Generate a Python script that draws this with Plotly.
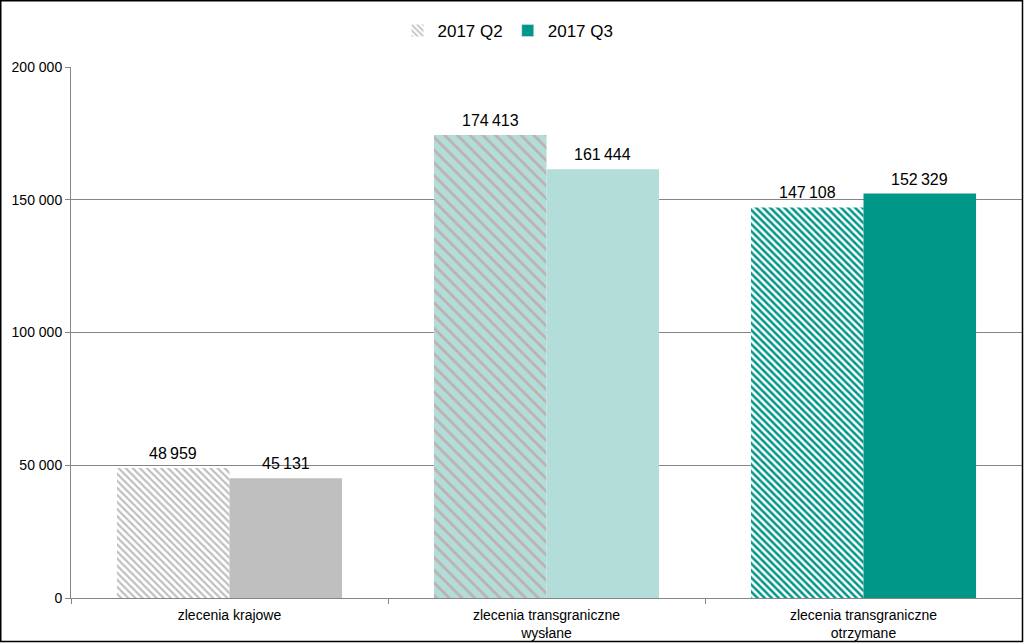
import plotly.graph_objects as go

categories = ["zlecenia krajowe", "zlecenia transgraniczne<br>wysłane", "zlecenia transgraniczne<br>otrzymane"]
q2_values = [48959, 174413, 147108]
q3_values = [45131, 161444, 152329]
series_names = ["2017 Q2", "2017 Q3"]
y_ticks = [0, 50000, 100000, 150000, 200000]

q3_colors = ["#BFBFBF", "#B2DDD8", "#009688"]
q2_bg = ["#FFFFFF", "#B2DDD8", "#FFFFFF"]
q2_fg = ["#BEBEBE", "#BFB0B0", "#009688"]
q2_size = [5, 9, 5]
q2_solid = [0.42, 0.3, 0.5]

W, H = 1024, 643
ml, mr, mt, mb = 71, 2, 67, 45
pw, ph = W - ml - mr, H - mt - mb
bargap = 0.29
half_bar_px = pw / len(categories) * (1 - bargap) / 4

label_font = dict(size=16, color="#000000", family="Liberation Sans")

fig = go.Figure()
for i, cat in enumerate(categories):
    fig.add_trace(go.Bar(
        x=[cat], y=[q2_values[i]], name=series_names[0], legendgroup="q2",
        showlegend=(i == 0), offsetgroup="q2",
        marker=dict(color=q2_bg[i], line=dict(width=0),
                    pattern=dict(shape="\\", fgcolor=q2_fg[i], bgcolor=q2_bg[i], fgopacity=1,
                                 size=q2_size[i], solidity=q2_solid[i], fillmode="overlay")),
    ))
for i, cat in enumerate(categories):
    fig.add_trace(go.Bar(
        x=[cat], y=[q3_values[i]], name=series_names[1], legendgroup="q3",
        showlegend=False, offsetgroup="q3",
        marker=dict(color=q3_colors[i], line=dict(width=0)),
    ))
# legend entry for Q3
fig.add_trace(go.Bar(
    x=[categories[0]], y=[None], name=series_names[1], legendgroup="q3",
    offsetgroup="q3", marker=dict(color="#009688"),
))

# value labels
for vals, sign in ((q2_values, -1), (q3_values, 1)):
    for cat, v in zip(categories, vals):
        fig.add_annotation(x=cat, y=v, xref="x", yref="y", text=f"{v:,}".replace(",", "\u202f"),
                           showarrow=False, yanchor="bottom", xanchor="center",
                           xshift=sign * half_bar_px, yshift=4, font=label_font)

fig.add_shape(type="rect", xref="paper", yref="paper",
              x0=(0.75 - ml) / pw, x1=(W - 1.5 - ml) / pw,
              y0=-(mb - 1.5) / ph, y1=(ph + mt - 0.75) / ph,
              line=dict(color="#000000", width=1.5), fillcolor="rgba(0,0,0,0)", layer="above")

fig.update_layout(
    width=W, height=H,
    margin=dict(l=ml, r=mr, t=mt, b=mb),
    barmode="group", bargap=bargap, bargroupgap=0,
    plot_bgcolor="#FFFFFF", paper_bgcolor="#FFFFFF",
    separators=", ",
    font=dict(family="Liberation Sans", size=12, color="#000000"),
    legend=dict(orientation="h", x=(508 - ml) / pw, xanchor="center", y=(598 - 31) / ph,
                yanchor="middle", font=dict(size=17, family="Liberation Sans"),
                traceorder="normal", bgcolor="rgba(0,0,0,0)"),
    xaxis=dict(showline=True, linecolor="#868686", linewidth=1, ticks="outside",
               tickson="boundaries", ticklen=5, tickcolor="#868686",
               tickfont=dict(size=14, family="Liberation Sans"), showgrid=False,
               ticklabelstandoff=4, automargin=False),
    yaxis=dict(range=[0, 200000], tickvals=y_ticks, tickformat=",.0f",
               showline=True, linecolor="#868686", linewidth=1, ticks="outside",
               ticklen=5, tickcolor="#868686", showgrid=True, gridcolor="#868686",
               gridwidth=1, zeroline=False, tickfont=dict(size=14), automargin=False),
)
fig.write_html("out.html")
